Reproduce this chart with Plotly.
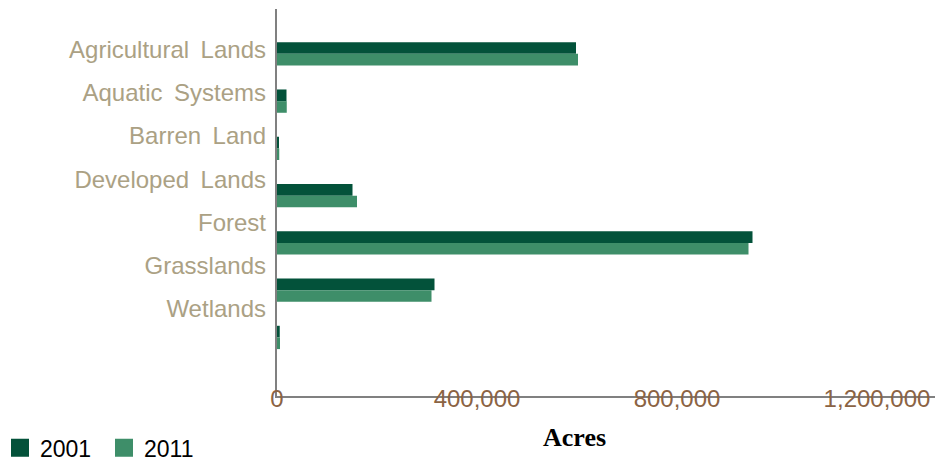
import plotly.graph_objects as go

categories = ["Agricultural Lands", "Aquatic Systems", "Barren Land", "Developed Lands",
              "Forest", "Grasslands", "Wetlands"]
acres_2001 = [598000, 19000, 4000, 151000, 951000, 315000, 5500]
acres_2011 = [602000, 19500, 4500, 160000, 943000, 309000, 6000]
series_names = ["2001", "2011"]
x_ticks = [0, 400000, 800000, 1200000]

C2001 = "#03523A"
C2011 = "#3E8E69"

fig = go.Figure()
fig.add_trace(go.Bar(y=categories, x=acres_2001, orientation="h", name=series_names[0],
                     marker=dict(color=C2001, line=dict(width=0)), showlegend=False))
fig.add_trace(go.Bar(y=categories, x=acres_2011, orientation="h", name=series_names[1],
                     marker=dict(color=C2011, line=dict(width=0)), showlegend=False))
# legend entries (square swatches)
for nm, col in zip(series_names, [C2001, C2011]):
    fig.add_trace(go.Scatter(x=[None], y=[None], mode="markers", name=nm, yaxis="y2",
                             marker=dict(symbol="square", size=16, color=col,
                                         line=dict(color=col, width=2)),
                             showlegend=True, hoverinfo="skip"))

n = len(categories)
tick_text = [c.replace(" ", " \u2009") for c in categories]

fig.update_layout(
    width=935, height=462,
    margin=dict(l=277, r=0, t=9, b=66, autoexpand=False),
    paper_bgcolor="white", plot_bgcolor="white",
    barmode="group", bargap=0.507, bargroupgap=0,
    font=dict(family="Liberation Sans, Arial, sans-serif"),
    xaxis=dict(range=[0, 1316000], tickmode="array", tickvals=x_ticks, tickformat=",d",
               showgrid=False, zeroline=False, showline=True, linecolor="#808080", linewidth=1.5,
               ticks="", tickfont=dict(size=24, color="#8B6343"), ticklabelstandoff=-20,
               automargin=False),
    yaxis=dict(type="category", categoryarray=categories, range=[7.239, -0.949],
               showticklabels=False, showgrid=False, zeroline=False, showline=True,
               linecolor="#808080", linewidth=1.5, ticks="", automargin=False),
    yaxis2=dict(overlaying="y", side="left", anchor="x", range=[8.011, -0.936],
                tickmode="array", tickvals=list(range(n)), ticktext=tick_text,
                showgrid=False, zeroline=False, showline=False, ticks="",
                tickfont=dict(size=24, color="#ABA184"), ticklabelstandoff=10,
                automargin=False),
    legend=dict(orientation="h", xref="container", yref="container", x=0, y=0.031,
                xanchor="left", yanchor="middle", font=dict(size=23, color="black"),
                bgcolor="rgba(0,0,0,0)", entrywidth=59, entrywidthmode="pixels"),
    annotations=[dict(text="<b>Acres</b>", xref="paper", yref="paper",
                      x=(574 - 277) / 658, y=(396 - 437.5) / 387, xanchor="center", yanchor="middle",
                      showarrow=False, font=dict(family="Liberation Serif, serif", size=26, color="black"))],
)

fig.write_html("out.html")
